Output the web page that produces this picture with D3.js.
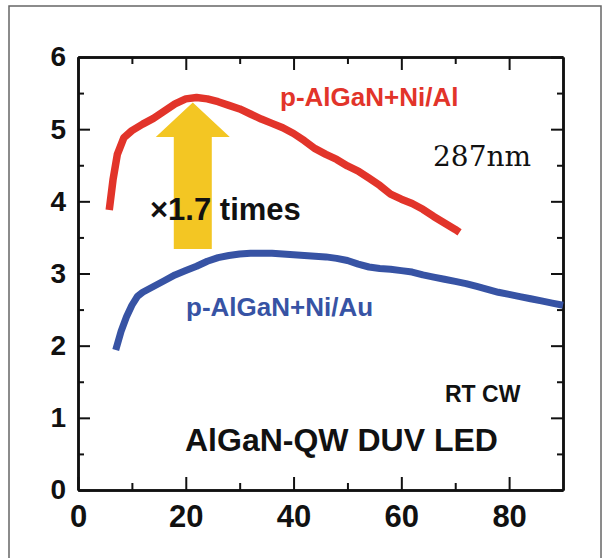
<!DOCTYPE html>
<html>
<head>
<meta charset="utf-8">
<script src="https://cdn.jsdelivr.net/npm/d3@7"></script>
<style>
  body { margin: 0; background: #fff; }
  svg { display: block; }
  text { font-family: "Liberation Sans", Arial, sans-serif; font-weight: bold; }
</style>
</head>
<body>
<svg id="chart"></svg>
<script>
// output power curves: [current, power]
const niAl = [[5.8,3.88],[6.5,4.3],[7.3,4.65],[8.5,4.88],[10,4.98],[12,5.07],[14,5.15],[16,5.25],[18,5.35],[20,5.42],[22,5.44],[24,5.42],[26,5.38],[28,5.33],[30,5.28],[32,5.21],[34,5.14],[36,5.08],[38,5.02],[40,4.94],[42,4.84],[44,4.73],[46,4.65],[48,4.58],[50,4.49],[52,4.42],[54,4.32],[56,4.22],[58,4.1],[60,4.03],[62,3.97],[64,3.89],[66,3.79],[68,3.7],[70,3.61],[70.8,3.57]];
const niAu = [[7,1.94],[8,2.2],[9,2.4],[10,2.56],[11,2.68],[12,2.74],[14,2.82],[16,2.9],[18,2.98],[20,3.04],[22,3.1],[24,3.17],[26,3.22],[28,3.25],[30,3.27],[32,3.28],[34,3.28],[36,3.28],[38,3.27],[40,3.26],[42,3.25],[44,3.24],[46,3.23],[48,3.21],[50,3.18],[52,3.13],[54,3.09],[56,3.07],[58,3.06],[60,3.04],[62,3.02],[64,2.98],[66,2.95],[68,2.92],[70,2.89],[72,2.86],[74,2.82],[76,2.78],[78,2.74],[80,2.71],[82,2.68],[84,2.65],[86,2.62],[88,2.59],[90,2.56]];

const xMajor = [0, 20, 40, 60, 80];
const xMinor = [10, 30, 50, 70];
const yMajor = [0, 1, 2, 3, 4, 5, 6];
const yMinor = [0.5, 1.5, 2.5, 3.5, 4.5, 5.5];

// arrow: tip, head base, shaft bottom (power values) at current 21.3
const arrowX = 21.3;
const arrowLevels = [5.37, 4.89, 3.34];

const width = 606, height = 558;

const svg = d3.select('#chart')
	.attr('width', width)
	.attr('height', height);

// outer frame
svg.append('rect')
	.attr('x', 9).attr('y', 6)
	.attr('width', 592).attr('height', 560)
	.attr('fill', 'none')
	.attr('stroke', '#666')
	.attr('stroke-width', 1.5);

let x = d3.scaleLinear().domain([0, 90]).range([78, 563]);
let y = d3.scaleLinear().domain([0, 6]).range([490, 57]);

function styleAxis(g) {
	g.selectAll('path.domain').attr('stroke', '#111').attr('stroke-width', 2.5);
	g.selectAll('line').attr('stroke', '#111').attr('stroke-width', 2);
}

// bottom
svg.append('g').attr('transform', `translate(0,${y(0)})`)
	.call(d3.axisBottom(x).tickValues(xMajor).tickSizeInner(-13).tickSizeOuter(0).tickPadding(15).tickFormat(d3.format('d')))
	.call(styleAxis)
	.call(g => g.selectAll('text').attr('font-size', 31).attr('fill', '#111'));
svg.append('g').attr('transform', `translate(0,${y(0)})`)
	.call(d3.axisBottom(x).tickValues(xMinor).tickSizeInner(-7).tickSizeOuter(0).tickFormat(''))
	.call(styleAxis);

// top
svg.append('g').attr('transform', `translate(0,${y(6)})`)
	.call(d3.axisTop(x).tickValues(xMajor).tickSizeInner(-13).tickSizeOuter(0).tickFormat(''))
	.call(styleAxis);
svg.append('g').attr('transform', `translate(0,${y(6)})`)
	.call(d3.axisTop(x).tickValues(xMinor).tickSizeInner(-7).tickSizeOuter(0).tickFormat(''))
	.call(styleAxis);

// left
svg.append('g').attr('transform', `translate(${x(0)},0)`)
	.call(d3.axisLeft(y).tickValues(yMajor).tickSizeInner(-12).tickSizeOuter(0).tickPadding(12).tickFormat(d3.format('d')))
	.call(styleAxis)
	.call(g => g.selectAll('text').attr('font-size', 28).attr('fill', '#111'));
svg.append('g').attr('transform', `translate(${x(0)},0)`)
	.call(d3.axisLeft(y).tickValues(yMinor).tickSizeInner(-6).tickSizeOuter(0).tickFormat(''))
	.call(styleAxis);

// right
svg.append('g').attr('transform', `translate(${x(90)},0)`)
	.call(d3.axisRight(y).tickValues(yMajor).tickSizeInner(-12).tickSizeOuter(0).tickFormat(''))
	.call(styleAxis);
svg.append('g').attr('transform', `translate(${x(90)},0)`)
	.call(d3.axisRight(y).tickValues(yMinor).tickSizeInner(-6).tickSizeOuter(0).tickFormat(''))
	.call(styleAxis);

// yellow arrow
let ax = x(arrowX);
let tipY = y(arrowLevels[0]), headY = y(arrowLevels[1]), baseY = y(arrowLevels[2]);
let shaft = 19, head = 37;
svg.append('polygon')
	.attr('points', [
		[ax, tipY], [ax + head, headY], [ax + shaft, headY], [ax + shaft, baseY],
		[ax - shaft, baseY], [ax - shaft, headY], [ax - head, headY]
	].map(p => p.join(',')).join(' '))
	.attr('fill', '#f3c623');

let line = d3.line()
	.x(d => x(d[0]))
	.y(d => y(d[1]));

svg.append('path')
	.datum(niAu)
	.attr('d', line)
	.attr('fill', 'none')
	.attr('stroke', '#3753a4')
	.attr('stroke-width', 7)
	.attr('stroke-linejoin', 'round');

svg.append('path')
	.datum(niAl)
	.attr('d', line)
	.attr('fill', 'none')
	.attr('stroke', '#e2342a')
	.attr('stroke-width', 7.5)
	.attr('stroke-linejoin', 'round');

// labels
svg.append('text').attr('x', 280).attr('y', 106)
	.attr('font-size', 26).attr('fill', '#e2342a')
	.text('p-AlGaN+Ni/Al');
svg.append('text').attr('x', 186).attr('y', 316)
	.attr('font-size', 26).attr('fill', '#3753a4')
	.text('p-AlGaN+Ni/Au');
svg.append('text').attr('x', 150).attr('y', 220)
	.attr('font-size', 31).attr('fill', '#111')
	.text('×1.7 times');
svg.append('text').attr('x', 433).attr('y', 166)
	.attr('font-size', 28).attr('fill', '#111')
	.style('font-family', '"DejaVu Serif", serif').style('font-weight', 'normal')
	.text('287nm');
svg.append('text').attr('x', 445).attr('y', 402)
	.attr('font-size', 23).attr('fill', '#111')
	.text('RT CW');
svg.append('text').attr('x', 185).attr('y', 451)
	.attr('font-size', 32).attr('fill', '#111')
	.text('AlGaN-QW DUV LED');
</script>
</body>
</html>
